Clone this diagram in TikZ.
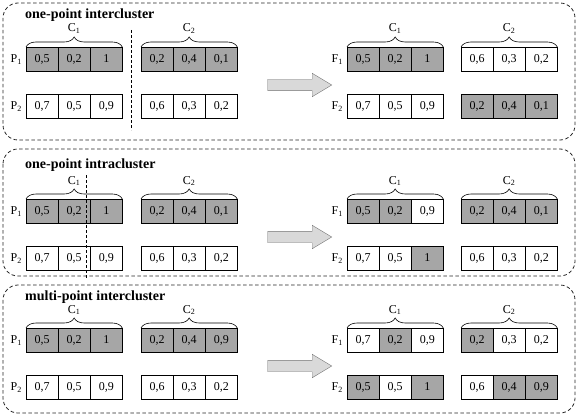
\documentclass[tikz,border=0pt]{standalone}
\usepackage{fontspec}
\setmainfont{Liberation Serif}
\usepackage{tikz}
\usetikzlibrary{shapes,arrows,positioning,decorations.pathreplacing}
\definecolor{gene}{HTML}{A6A6A6}

\begin{document}
\begin{tikzpicture}[x=1pt, y=-1pt,
    panel/.style={draw=black!85, dash pattern=on 3.5pt off 2.5pt, rounded corners=15pt, line width=0.8pt},
    genes/.style={draw, anchor=north west, rectangle split, rectangle split horizontal, rectangle split parts=3, rectangle split part align=base, text width=23.5pt, align=center, inner xsep=4pt, inner ysep=4pt, minimum height=24pt, font=\fontsize{12}{14}\selectfont, line width=0.6pt},
    lbl/.style={inner sep=0pt, font=\fontsize{12}{14}\selectfont},
    title/.style={anchor=west, inner sep=0pt, font=\bfseries\fontsize{14}{16}\selectfont},
    cluster/.style={decorate, decoration={brace, amplitude=10pt}, line width=0.6pt},
    cut/.style={dash pattern=on 3pt off 2pt, line width=0.7pt},
    bigarrow/.style={single arrow, draw=black!55, fill=black!15, minimum height=64pt, text height=11pt, text depth=0pt, single arrow head extend=6pt, single arrow tip angle=62, inner sep=0pt}
]
\useasboundingbox (0,0) rectangle (580,417);

% panels
\draw[panel] (3,3) rectangle (575,140);
\draw[panel] (3,149) rectangle (575,276);
\draw[panel] (3,285) rectangle (575,413);
\node[title] (ta) at (25,15) {one-point intercluster};
\node[title] (tb) at (25,165) {one-point intracluster};
\node[title] (tc) at (25,297) {multi-point intercluster};

% one-point intercluster
\node[genes, rectangle split part fill={gene,gene,gene}] (aP1c1) at (26,47) {0,5\nodepart{two}0,2\nodepart{three}1};
\node[genes, rectangle split part fill={gene,gene,gene}] (aP1c2) at (141,47) {0,2\nodepart{two}0,4\nodepart{three}0,1};
\node[genes] (aP2c1) at (26,94) {0,7\nodepart{two}0,5\nodepart{three}0,9};
\node[genes] (aP2c2) at (141,94) {0,6\nodepart{two}0,3\nodepart{three}0,2};
\node[genes, rectangle split part fill={gene,gene,gene}] (aF1c1) at (347,47) {0,5\nodepart{two}0,2\nodepart{three}1};
\node[genes] (aF1c2) at (461,47) {0,6\nodepart{two}0,3\nodepart{three}0,2};
\node[genes] (aF2c1) at (347,94) {0,7\nodepart{two}0,5\nodepart{three}0,9};
\node[genes, rectangle split part fill={gene,gene,gene}] (aF2c2) at (461,94) {0,2\nodepart{two}0,4\nodepart{three}0,1};
\draw[cut] (131,30) -- (131,130);
\node[bigarrow] (arra) at (295,85) {};

% one-point intracluster
\node[genes, rectangle split part fill={gene,gene,gene}] (bP1c1) at (26,199) {0,5\nodepart{two}0,2\nodepart{three}1};
\node[genes, rectangle split part fill={gene,gene,gene}] (bP1c2) at (141,199) {0,2\nodepart{two}0,4\nodepart{three}0,1};
\node[genes] (bP2c1) at (26,246) {0,7\nodepart{two}0,5\nodepart{three}0,9};
\node[genes] (bP2c2) at (141,246) {0,6\nodepart{two}0,3\nodepart{three}0,2};
\node[genes, rectangle split part fill={gene,gene,white}] (bF1c1) at (347,199) {0,5\nodepart{two}0,2\nodepart{three}0,9};
\node[genes, rectangle split part fill={gene,gene,gene}] (bF1c2) at (461,199) {0,2\nodepart{two}0,4\nodepart{three}0,1};
\node[genes, rectangle split part fill={white,white,gene}] (bF2c1) at (347,246) {0,7\nodepart{two}0,5\nodepart{three}1};
\node[genes] (bF2c2) at (461,246) {0,6\nodepart{two}0,3\nodepart{three}0,2};
\draw[cut] (86,175) -- (86,278);
\node[bigarrow] (arrb) at (295,237) {};

% multi-point intercluster
\node[genes, rectangle split part fill={gene,gene,gene}] (cP1c1) at (26,328) {0,5\nodepart{two}0,2\nodepart{three}1};
\node[genes, rectangle split part fill={gene,gene,gene}] (cP1c2) at (141,328) {0,2\nodepart{two}0,4\nodepart{three}0,9};
\node[genes] (cP2c1) at (26,375) {0,7\nodepart{two}0,5\nodepart{three}0,9};
\node[genes] (cP2c2) at (141,375) {0,6\nodepart{two}0,3\nodepart{three}0,2};
\node[genes, rectangle split part fill={white,gene,white}] (cF1c1) at (347,328) {0,7\nodepart{two}0,2\nodepart{three}0,9};
\node[genes, rectangle split part fill={gene,white,white}] (cF1c2) at (461,328) {0,2\nodepart{two}0,3\nodepart{three}0,2};
\node[genes, rectangle split part fill={gene,white,gene}] (cF2c1) at (347,375) {0,5\nodepart{two}0,5\nodepart{three}1};
\node[genes, rectangle split part fill={white,gene,gene}] (cF2c2) at (461,375) {0,6\nodepart{two}0,4\nodepart{three}0,9};
\node[bigarrow] (arrc) at (295,366) {};

% clusters and parents / offspring
\foreach \p in {a,b,c} {
  \foreach \s in {P,F} {
    \foreach \i in {1,2} {
      \draw[cluster] (\p\s1c\i.north west) -- (\p\s1c\i.north east);
      \node[lbl, above=13pt of \p\s1c\i] (\p\s C\i) {C\textsubscript{\i}};
      \node[lbl, left=4pt of \p\s\i c1] (\p\s\i) {\s\textsubscript{\i}};
    }
  }
}
\end{tikzpicture}
\end{document}
